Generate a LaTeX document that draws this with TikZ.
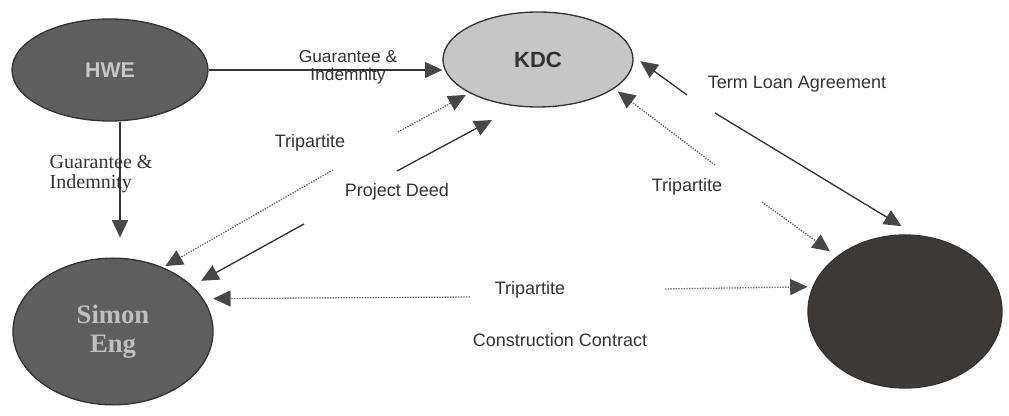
\documentclass[tikz,border=0pt]{standalone}
\usepackage{fontspec}
\setmainfont{Liberation Sans}
\newfontfamily\timesfont{Liberation Serif}
\usetikzlibrary{arrows.meta,shapes.geometric}
\definecolor{ink}{HTML}{333333}
\definecolor{tipfill}{HTML}{474747}
\definecolor{dots}{HTML}{666666}
\definecolor{darkparty}{HTML}{5E5E5E}
\definecolor{lightparty}{HTML}{C6C6C6}
\definecolor{bankparty}{HTML}{3D3937}

\begin{document}
\begin{tikzpicture}[x=0.75pt,y=-0.75pt,
          every node/.style={font=\fontsize{13.5}{13.5}\selectfont,text=ink},
          party/.style={ellipse,draw=ink,line width=1pt,inner sep=0pt},
          link/.style={draw=ink,line width=1pt,
              -{Triangle[length=13pt,width=12pt,color=tipfill]}},
          dotlink/.style={draw=dots,line width=1pt,densely dotted,
              -{Triangle[length=13pt,width=12pt,color=tipfill]}}]
        \useasboundingbox (0,0) rectangle (1009,416);
        % parties
        \node[party,fill=darkparty,minimum width=147pt,minimum height=76.5pt,
            font=\bfseries\fontsize{16}{16}\selectfont,text=gray!45] (hwe) at (110,70) {HWE};
        \node[party,fill=lightparty,minimum width=142.5pt,minimum height=71.25pt,
            font=\bfseries\fontsize{16.5}{16.5}\selectfont] (kdc) at (538,59.5) {KDC};
        \node[party,fill=darkparty,minimum width=150pt,minimum height=110pt,align=center,
            font=\timesfont\bfseries\fontsize{20}{22}\selectfont,text=gray!50] (simon) at (113,331.5) {Simon\\Eng};
        \node[party,fill=bankparty,minimum width=145.5pt,minimum height=114.75pt] (lender) at (905,311.5) {};
        % gaps left for the labels
        \coordinate (pdA) at (304,224);
        \coordinate (pdB) at (397,171);
        \coordinate (tpA) at (333,170);
        \coordinate (tpB) at (398,132);
        \coordinate (tqA) at (715,165);
        \coordinate (tqB) at (762,202);
        \coordinate (tlA) at (687,95);
        \coordinate (tlB) at (715,113);
        \coordinate (thA) at (470,297);
        \coordinate (thB) at (665,289);
        % agreements
        \draw[link] (hwe.east) -- (hwe.east -| kdc.west);
        \draw[link,shorten >=15pt] ([xshift=7.5pt]hwe.south) -- ([xshift=7.5pt]hwe.south |- simon.north);
        \draw[link,shorten >=7.7pt] (pdA) -- (simon.30);
        \draw[link,shorten >=21.5pt] (pdB) -- (kdc.-114);
        \draw[link,shorten >=6.4pt] (tlA) -- (kdc.2);
        \draw[link,shorten >=12.5pt] (tlB) -- (lender.82);
        \draw[dotlink,shorten >=2pt] (tpA) -- (simon.52);
        \draw[dotlink,shorten >=3pt] (tpB) -- (kdc.206);
        \draw[dotlink,shorten >=3.5pt] (tqA) -- (kdc.-21);
        \draw[dotlink,shorten >=6.4pt] (tqB) -- (lender.141);
        \draw[dotlink,shorten >=7.5pt] (thA) -- (simon.20);
        \draw[dotlink,shorten >=3.75pt] (thB) -- (lender.165);
        % labels
        \node[align=center,font=\fontsize{13}{13.5}\selectfont] (gi) at (348,67) {Guarantee \&\\Indemnity};
        \node[anchor=west,align=left,font=\timesfont\fontsize{15}{15}\selectfont] (gs) at (45,174) {Guarantee \&\\Indemnity};
        \node (tp) at (310,143) {Tripartite};
        \node (pd) at (397,192) {Project Deed};
        \node (tq) at (687,187) {Tripartite};
        \node (tl) at (797,84) {Term Loan Agreement};
        \node (th) at (530,290) {Tripartite};
        \node (cc) at (560,340) {Construction Contract};
      \end{tikzpicture}
\end{document}
